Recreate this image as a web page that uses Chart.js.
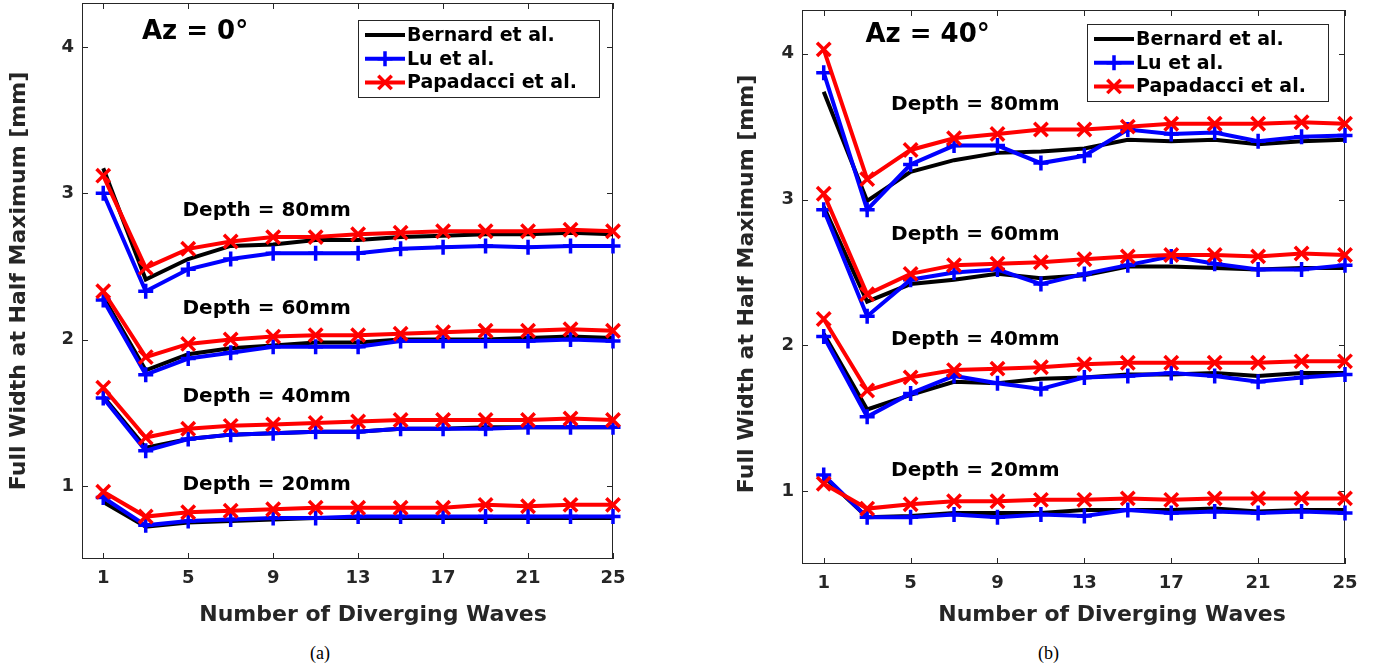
<!DOCTYPE html>
<html>
<head>
<meta charset="utf-8">
<script src="https://cdn.jsdelivr.net/npm/chart.js@4.4.0/dist/chart.umd.min.js"></script>
<style>
    body { margin: 0; background: #fff; width: 1379px; height: 668px; position: relative; overflow: hidden; }
    canvas { position: absolute; top: 0; }
    #chart-az0 { left: 0; }
    #chart-az40 { left: 700px; }
    .caption { position: absolute; top: 643px; font: 18px 'Liberation Serif', 'Times New Roman', serif; color: #000; }
</style>
</head>
<body>
<canvas id="chart-az0" width="640" height="640"></canvas>
<canvas id="chart-az40" width="679" height="640"></canvas>
<div class="caption" style="left:310px">(a)</div>
<div class="caption" style="left:1038px">(b)</div>
<script>
// Dados
const waves = [1, 3, 5, 7, 9, 11, 13, 15, 17, 19, 21, 23, 25];
const xTicks = [1, 5, 9, 13, 17, 21, 25];
const yTicks = [1, 2, 3, 4];
const methods = ['Bernard et al.', 'Lu et al.', 'Papadacci et al.'];
const depthLabels = ['Depth = 80mm', 'Depth = 60mm', 'Depth = 40mm', 'Depth = 20mm'];

// Az = 0°
const az0Bernard80 = [3.17, 2.41, 2.55, 2.64, 2.65, 2.68, 2.68, 2.70, 2.71, 2.72, 2.72, 2.73, 2.72];
const az0Lu80 = [3.00, 2.33, 2.48, 2.55, 2.59, 2.59, 2.59, 2.62, 2.63, 2.64, 2.63, 2.64, 2.64];
const az0Papadacci80 = [3.12, 2.49, 2.62, 2.67, 2.70, 2.70, 2.72, 2.73, 2.74, 2.74, 2.74, 2.75, 2.74];
const az0Bernard60 = [2.29, 1.79, 1.90, 1.94, 1.96, 1.98, 1.98, 2.00, 2.00, 2.00, 2.01, 2.02, 2.01];
const az0Lu60 = [2.27, 1.76, 1.87, 1.91, 1.95, 1.95, 1.95, 1.99, 1.99, 1.99, 1.99, 2.00, 1.99];
const az0Papadacci60 = [2.33, 1.88, 1.97, 2.00, 2.02, 2.03, 2.03, 2.04, 2.05, 2.06, 2.06, 2.07, 2.06];
const az0Bernard40 = [1.61, 1.26, 1.32, 1.35, 1.36, 1.37, 1.37, 1.39, 1.39, 1.40, 1.40, 1.40, 1.40];
const az0Lu40 = [1.60, 1.24, 1.32, 1.35, 1.36, 1.37, 1.37, 1.39, 1.39, 1.39, 1.40, 1.40, 1.40];
const az0Papadacci40 = [1.67, 1.33, 1.39, 1.41, 1.42, 1.43, 1.44, 1.45, 1.45, 1.45, 1.45, 1.46, 1.45];
const az0Bernard20 = [0.89, 0.72, 0.75, 0.76, 0.77, 0.78, 0.78, 0.78, 0.78, 0.78, 0.78, 0.78, 0.78];
const az0Lu20 = [0.92, 0.73, 0.76, 0.77, 0.78, 0.78, 0.79, 0.79, 0.79, 0.79, 0.79, 0.79, 0.79];
const az0Papadacci20 = [0.96, 0.79, 0.82, 0.83, 0.84, 0.85, 0.85, 0.85, 0.85, 0.87, 0.86, 0.87, 0.87];

// Az = 40°
const az40Bernard80 = [3.74, 2.99, 3.19, 3.27, 3.32, 3.33, 3.35, 3.41, 3.40, 3.41, 3.38, 3.40, 3.41];
const az40Lu80 = [3.87, 2.93, 3.24, 3.37, 3.37, 3.25, 3.30, 3.48, 3.45, 3.46, 3.40, 3.43, 3.44];
const az40Papadacci80 = [4.03, 3.14, 3.34, 3.42, 3.45, 3.48, 3.48, 3.50, 3.52, 3.52, 3.52, 3.53, 3.52];
const az40Bernard60 = [2.95, 2.30, 2.42, 2.45, 2.49, 2.46, 2.48, 2.54, 2.54, 2.53, 2.52, 2.53, 2.53];
const az40Lu60 = [2.93, 2.20, 2.45, 2.50, 2.52, 2.42, 2.49, 2.55, 2.61, 2.56, 2.52, 2.52, 2.55];
const az40Papadacci60 = [3.04, 2.35, 2.49, 2.55, 2.56, 2.57, 2.59, 2.61, 2.62, 2.62, 2.61, 2.63, 2.62];
const az40Bernard40 = [2.08, 1.56, 1.66, 1.75, 1.74, 1.77, 1.78, 1.80, 1.80, 1.81, 1.79, 1.81, 1.81];
const az40Lu40 = [2.06, 1.51, 1.67, 1.79, 1.74, 1.70, 1.78, 1.79, 1.81, 1.79, 1.75, 1.78, 1.80];
const az40Papadacci40 = [2.18, 1.69, 1.78, 1.83, 1.84, 1.85, 1.87, 1.88, 1.88, 1.88, 1.88, 1.89, 1.89];
const az40Bernard20 = [1.10, 0.82, 0.83, 0.85, 0.85, 0.85, 0.87, 0.87, 0.87, 0.88, 0.86, 0.87, 0.87];
const az40Lu20 = [1.11, 0.82, 0.82, 0.84, 0.82, 0.84, 0.83, 0.87, 0.85, 0.86, 0.85, 0.86, 0.85];
const az40Papadacci20 = [1.05, 0.88, 0.91, 0.93, 0.93, 0.94, 0.94, 0.95, 0.94, 0.95, 0.95, 0.95, 0.95];

const FONT = "'DejaVu Sans', 'Liberation Sans', sans-serif";
const AXIS_COLOR = '#262626';

// Estilo de cada método (preto sem marcador, azul com +, vermelho com x)
const styles = [
    { color: '#000000', pointStyle: 'circle', radius: 0, order: 3 },
    { color: '#0000ff', pointStyle: 'cross', radius: 7.5, order: 2 },
    { color: '#ff0000', pointStyle: 'crossRot', radius: 9.5, order: 1 }
];

// Plugin para caixa, ticks internos, rótulos de profundidade, legenda e títulos
const decor = {
    id: 'decor',
    beforeDatasetsDraw(chart) {
        const { ctx, chartArea: a, scales: { x, y } } = chart;
        ctx.save();
        ctx.strokeStyle = AXIS_COLOR;
        ctx.lineWidth = 1;
        ctx.strokeRect(a.left + 0.5, a.top + 0.5, a.width - 1, a.height - 1);
        ctx.beginPath();
        x.ticks.forEach(t => {
            const px = Math.round(x.getPixelForValue(t.value)) + 0.5;
            ctx.moveTo(px, a.bottom); ctx.lineTo(px, a.bottom - 6);
            ctx.moveTo(px, a.top); ctx.lineTo(px, a.top + 6);
        });
        y.ticks.forEach(t => {
            const py = Math.round(y.getPixelForValue(t.value)) + 0.5;
            ctx.moveTo(a.left, py); ctx.lineTo(a.left + 6, py);
            ctx.moveTo(a.right, py); ctx.lineTo(a.right - 6, py);
        });
        ctx.stroke();
        ctx.restore();
    },
    afterDraw(chart, args, o) {
        const { ctx, scales: { x, y } } = chart;
        ctx.save();
        ctx.textBaseline = 'middle';
        ctx.textAlign = 'left';
        ctx.fillStyle = '#000';

        // Depth = ...
        ctx.font = 'bold 20px ' + FONT;
        depthLabels.forEach((txt, i) => {
            const p = o.depthPos[i];
            ctx.fillText(txt, x.getPixelForValue(p[0]), y.getPixelForValue(p[1]));
        });

        // Az = ...
        ctx.font = 'bold 26px ' + FONT;
        ctx.fillText(o.azText, x.getPixelForValue(o.azPos[0]), y.getPixelForValue(o.azPos[1]));

        // Legenda
        const L = o.legend;
        ctx.fillStyle = '#fff';
        ctx.fillRect(L.x, L.y, L.w, L.h);
        ctx.strokeStyle = AXIS_COLOR;
        ctx.lineWidth = 1;
        ctx.strokeRect(L.x + 0.5, L.y + 0.5, L.w, L.h);
        ctx.font = 'bold 19px ' + FONT;
        methods.forEach((m, i) => {
            const s = styles[i];
            const ry = L.y + 15 + i * 23.7;
            ctx.strokeStyle = s.color;
            ctx.fillStyle = s.color;
            ctx.lineWidth = 4;
            ctx.beginPath();
            ctx.moveTo(L.x + 7, ry);
            ctx.lineTo(L.x + 47, ry);
            ctx.stroke();
            if (s.radius > 0) {
                ctx.lineWidth = 3.5;
                Chart.helpers.drawPoint(ctx, { pointStyle: s.pointStyle, radius: s.radius, rotation: 0, borderWidth: 3.5 }, L.x + 27, ry);
            }
            ctx.fillStyle = '#000';
            ctx.fillText(m, L.x + 49, ry + 1);
        });

        // Títulos dos eixos
        ctx.fillStyle = AXIS_COLOR;
        ctx.font = 'bold 22px ' + FONT;
        ctx.textAlign = 'center';
        ctx.fillText('Number of Diverging Waves', o.xTitle[0], o.xTitle[1]);
        ctx.translate(o.yTitle[0], o.yTitle[1]);
        ctx.rotate(-Math.PI / 2);
        ctx.fillText('Full Width at Half Maximum [mm]', 0, 0);
        ctx.restore();
    }
};

function buildChart(canvasId, series, o) {
    const ctx = document.getElementById(canvasId);
    if (!ctx) return;

    const datasets = [];
    series.forEach(depth => {
        depth.forEach((vals, m) => {
            const s = styles[m];
            datasets.push({
                label: methods[m],
                data: waves.map((w, k) => ({ x: w, y: vals[k] })),
                borderColor: s.color,
                backgroundColor: s.color,
                borderWidth: 4,
                pointStyle: s.pointStyle,
                pointRadius: s.radius,
                pointBorderWidth: 3.5,
                pointBorderColor: s.color,
                pointBackgroundColor: s.color,
                tension: 0,
                order: s.order,
                clip: false
            });
        });
    });

    new Chart(ctx, {
        type: 'line',
        data: { datasets: datasets },
        options: {
            responsive: false,
            animation: false,
            events: [],
            layout: { padding: o.padding, autoPadding: false },
            plugins: {
                legend: { display: false },
                tooltip: { enabled: false },
                decor: o
            },
            scales: {
                x: {
                    type: 'linear',
                    min: 0,
                    max: 25,
                    grid: { display: false, drawTicks: false },
                    border: { display: false },
                    afterBuildTicks: scale => { scale.ticks = xTicks.map(v => ({ value: v })); },
                    afterFit: scale => {
                        scale.height = o.xHeight;
                        scale.paddingLeft = 0;
                        scale.paddingRight = 0;
                    },
                    ticks: {
                        font: { family: FONT, weight: 'bold', size: 18 },
                        color: AXIS_COLOR,
                        padding: 9,
                        maxRotation: 0
                    }
                },
                y: {
                    type: 'linear',
                    min: 0.5,
                    max: 4.3,
                    grid: { display: false, drawTicks: false },
                    border: { display: false },
                    afterBuildTicks: scale => { scale.ticks = yTicks.map(v => ({ value: v })); },
                    afterFit: scale => {
                        scale.width = o.yWidth;
                        scale.paddingTop = 0;
                        scale.paddingBottom = 0;
                    },
                    ticks: {
                        font: { family: FONT, weight: 'bold', size: 18 },
                        color: AXIS_COLOR,
                        padding: 8
                    }
                }
            }
        },
        plugins: [decor]
    });
}

function initCharts() {
    // Az = 0°
    buildChart('chart-az0', [
        [az0Bernard80, az0Lu80, az0Papadacci80],
        [az0Bernard60, az0Lu60, az0Papadacci60],
        [az0Bernard40, az0Lu40, az0Papadacci40],
        [az0Bernard20, az0Lu20, az0Papadacci20]
    ], {
        padding: { top: 3, right: 27, left: 0, bottom: 0 },
        yWidth: 82,
        xHeight: 81,
        azText: 'Az = 0°',
        azPos: [2.82, 4.10],
        depthPos: [[4.73, 2.88], [4.73, 2.21], [4.73, 1.61], [4.73, 1.01]],
        legend: { x: 358, y: 20, w: 241, h: 77 },
        xTitle: [373, 615],
        yTitle: [19, 281]
    });

    // Az = 40°
    buildChart('chart-az40', [
        [az40Bernard80, az40Lu80, az40Papadacci80],
        [az40Bernard60, az40Lu60, az40Papadacci60],
        [az40Bernard40, az40Lu40, az40Papadacci40],
        [az40Bernard20, az40Lu20, az40Papadacci20]
    ], {
        padding: { top: 10, right: 34, left: 0, bottom: 0 },
        yWidth: 102,
        xHeight: 76,
        azText: 'Az = 40°',
        azPos: [2.92, 4.13],
        depthPos: [[4.10, 3.65], [4.10, 2.76], [4.10, 2.04], [4.10, 1.14]],
        legend: { x: 387, y: 24, w: 241, h: 77 },
        xTitle: [412, 615],
        yTitle: [47, 284]
    });
}

if (document.readyState === 'loading') {
    document.addEventListener('DOMContentLoaded', initCharts);
} else {
    initCharts();
}
</script>
</body>
</html>
